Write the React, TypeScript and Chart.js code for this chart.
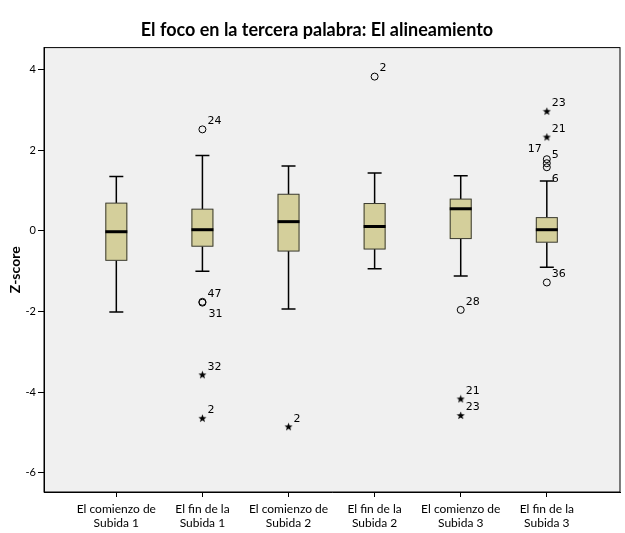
import React, { useEffect, useRef } from 'react';
import { Chart, registerables } from 'chart.js';

Chart.register(...registerables);

// groups shown on the x axis
const categories: string[][] = [
  ['El comienzo de', 'Subida 1'],
  ['El fin de la', 'Subida 1'],
  ['El comienzo de', 'Subida 2'],
  ['El fin de la', 'Subida 2'],
  ['El comienzo de', 'Subida 3'],
  ['El fin de la', 'Subida 3'],
];

// box statistics per group
const whiskerLow = [-2.01, -1.0, -1.94, -0.94, -1.12, -0.9];
const q1 = [-0.73, -0.38, -0.5, -0.45, -0.19, -0.28];
const median = [-0.02, 0.03, 0.23, 0.11, 0.55, 0.03];
const q3 = [0.69, 0.54, 0.91, 0.68, 0.79, 0.33];
const whiskerHigh = [1.35, 1.87, 1.61, 1.44, 1.37, 1.24];

// outliers: [group, value, case label]
const circleOutliers: [number, number, string][] = [
  [2, 2.52, '24'],
  [2, -1.76, '47'],
  [2, -1.78, '31'],
  [4, 3.83, '2'],
  [5, -1.96, '28'],
  [6, 1.78, '17'],
  [6, 1.68, '5'],
  [6, 1.58, '6'],
  [6, -1.28, '36'],
];
const starOutliers: [number, number, string][] = [
  [2, -3.57, '32'],
  [2, -4.65, '2'],
  [3, -4.86, '2'],
  [5, -4.17, '21'],
  [5, -4.58, '23'],
  [6, 2.97, '23'],
  [6, 2.33, '21'],
];

const yTicks = [-6, -4, -2, 0, 2, 4];

const FONT = 'Lato, "Noto Sans", sans-serif';
const LABEL_FONT = '"DejaVu Sans", sans-serif';

// where a case label sits relative to its point (default: up-right)
const labelOffset = (label: string, group: number): [number, number, CanvasTextAlign] => {
  if (group === 2 && label === '31') return [6, 12, 'left'];
  if (group === 6 && label === '17') return [-5, -10, 'right'];
  if (group === 6 && label === '6') return [5, 12, 'left'];
  return [5, -8, 'left'];
};

// small filled star used as point style
const makeStar = (): HTMLCanvasElement => {
  const c = document.createElement('canvas');
  c.width = 9;
  c.height = 9;
  const g = c.getContext('2d');
  if (g) {
    g.fillStyle = '#000';
    g.beginPath();
    for (let k = 0; k < 10; k++) {
      const r = k % 2 === 0 ? 4.3 : 1.8;
      const ang = -Math.PI / 2 + (k * Math.PI) / 5;
      const px = 4.5 + r * Math.cos(ang);
      const py = 4.8 + r * Math.sin(ang);
      if (k === 0) g.moveTo(px, py);
      else g.lineTo(px, py);
    }
    g.closePath();
    g.fill();
  }
  return c;
};

const boxPlugin = {
  id: 'boxes',
  beforeDraw(chart: any) {
    const { ctx, chartArea: a } = chart;
    ctx.save();
    ctx.fillStyle = '#f0f0f0';
    ctx.fillRect(a.left, a.top, a.right - a.left, a.bottom - a.top);
    ctx.restore();
  },
  beforeDatasetsDraw(chart: any) {
    const { ctx, scales } = chart;
    const x = scales.x;
    const y = scales.y;
    ctx.save();
    categories.forEach((_, i) => {
      const cx = x.getPixelForValue(i + 1);
      const half = 11;
      const cap = 7;
      // whiskers
      ctx.strokeStyle = '#000';
      ctx.lineWidth = 1.5;
      ctx.beginPath();
      ctx.moveTo(cx, y.getPixelForValue(whiskerHigh[i]));
      ctx.lineTo(cx, y.getPixelForValue(q3[i]));
      ctx.moveTo(cx, y.getPixelForValue(q1[i]));
      ctx.lineTo(cx, y.getPixelForValue(whiskerLow[i]));
      ctx.moveTo(cx - cap, y.getPixelForValue(whiskerHigh[i]));
      ctx.lineTo(cx + cap, y.getPixelForValue(whiskerHigh[i]));
      ctx.moveTo(cx - cap, y.getPixelForValue(whiskerLow[i]));
      ctx.lineTo(cx + cap, y.getPixelForValue(whiskerLow[i]));
      ctx.stroke();
      // box
      const top = y.getPixelForValue(q3[i]);
      const bottom = y.getPixelForValue(q1[i]);
      ctx.fillStyle = '#d4cf9b';
      ctx.fillRect(cx - half, top, half * 2, bottom - top);
      ctx.strokeStyle = '#3a3a30';
      ctx.lineWidth = 1;
      ctx.strokeRect(cx - half + 0.5, top, half * 2 - 1, bottom - top);
      // median
      ctx.strokeStyle = '#000';
      ctx.lineWidth = 3;
      ctx.beginPath();
      ctx.moveTo(cx - half, y.getPixelForValue(median[i]));
      ctx.lineTo(cx + half, y.getPixelForValue(median[i]));
      ctx.stroke();
    });
    ctx.restore();
  },
  afterDatasetsDraw(chart: any) {
    const { ctx, scales, chartArea: a } = chart;
    ctx.save();
    ctx.font = `11px ${LABEL_FONT}`;
    ctx.fillStyle = '#000';
    ctx.textBaseline = 'middle';
    [...circleOutliers, ...starOutliers].forEach(([g, v, label]) => {
      const px = scales.x.getPixelForValue(g);
      const py = scales.y.getPixelForValue(v);
      const [dx, dy, align] = labelOffset(label, g);
      ctx.textAlign = align;
      ctx.fillText(label, px + dx, py + dy);
    });
    // frame
    ctx.strokeStyle = '#000';
    ctx.lineWidth = 1;
    ctx.strokeRect(a.left, a.top, a.right - a.left, a.bottom - a.top);
    ctx.restore();
  },
};

const App: React.FC = () => {
  const chartRef = useRef<HTMLCanvasElement>(null);

  useEffect(() => {
    document.body.style.margin = '0';
    if (!chartRef.current) return;
    const ctx = chartRef.current.getContext('2d');
    if (!ctx) return;

    const chart = new Chart(ctx, {
      type: 'scatter',
      data: {
        datasets: [
          {
            label: 'circles',
            data: circleOutliers.map(([g, v]) => ({ x: g, y: v })),
            pointStyle: 'circle',
            radius: 3.5,
            borderColor: '#000',
            borderWidth: 1,
            backgroundColor: 'rgba(0,0,0,0)',
          },
          {
            label: 'stars',
            data: starOutliers.map(([g, v]) => ({ x: g, y: v })),
            pointStyle: makeStar(),
            radius: 4,
          },
        ],
      },
      options: {
        responsive: false,
        animation: false,
        layout: { padding: { left: 14, right: 5, top: 0, bottom: 0 } },
        plugins: {
          legend: { display: false },
          tooltip: { enabled: false },
          title: {
            display: true,
            text: 'El foco en la tercera palabra: El alineamiento',
            color: '#000',
            font: { family: FONT, size: 18, weight: 'bold' },
            padding: { top: 19, bottom: 7 },
          },
        },
        scales: {
          x: {
            type: 'linear',
            min: 0.16,
            max: 6.85,
            afterBuildTicks: (scale: any) => {
              scale.ticks = categories.map((_, i) => ({ value: i + 1 }));
            },
            afterFit: (scale: any) => {
              scale.height = 41;
              scale.paddingLeft = 0;
              scale.paddingRight = 0;
            },
            grid: { drawOnChartArea: false, drawTicks: true, tickLength: 5, color: '#000' },
            border: { color: '#000' },
            ticks: {
              color: '#000',
              padding: 6,
              maxRotation: 0,
              autoSkip: false,
              font: { family: FONT, size: 12, lineHeight: 1.1 },
              callback: (v: any) => categories[Number(v) - 1],
            },
          },
          y: {
            min: -6.48,
            max: 4.55,
            afterBuildTicks: (scale: any) => {
              scale.ticks = yTicks.map((t) => ({ value: t }));
            },
            afterFit: (scale: any) => {
              scale.width = 30;
              scale.paddingTop = 0;
              scale.paddingBottom = 0;
            },
            grid: { drawOnChartArea: false, drawTicks: true, tickLength: 6, color: '#000' },
            border: { color: '#000' },
            title: {
              display: true,
              text: 'Z-score',
              color: '#000',
              font: { family: FONT, size: 14, weight: 'bold' },
              padding: { top: -7, bottom: 0 },
            },
            ticks: {
              color: '#000',
              padding: 2,
              font: { family: FONT, size: 11 },
              callback: (v: any) => String(v),
            },
          },
        },
      },
      plugins: [boxPlugin],
    });

    return () => {
      chart.destroy();
    };
  }, []);

  return <canvas ref={chartRef} width={625} height={533} style={{ display: 'block' }} />;
};

export default App;
